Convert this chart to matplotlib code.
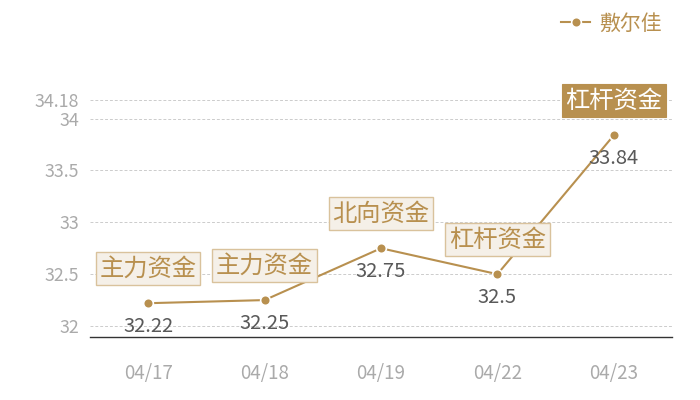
import matplotlib
matplotlib.use("Agg")
import matplotlib.pyplot as plt

plt.rcParams['font.family'] = ['Noto Sans CJK SC', 'DejaVu Sans']

dates = ["04/17", "04/18", "04/19", "04/22", "04/23"]
values = [32.22, 32.25, 32.75, 32.5, 33.84]
tags = ["主力资金", "主力资金", "北向资金", "杠杆资金", "杠杆资金"]
highlight = [False, False, False, False, True]
series_name = "敷尔佳"
yticks = [32, 32.5, 33, 33.5, 34, 34.18]
ytick_labels = ["32", "32.5", "33", "33.5", "34", "34.18"]

gold = "#b8904f"
fig = plt.figure(figsize=(7, 4), dpi=100)
ax = fig.add_axes([90/700, 63/400, 582/700, 237/400])
x = list(range(len(dates)))
ax.plot(x, values, color=gold, lw=1.5, marker='o', ms=7,
        markeredgecolor='white', markeredgewidth=1.2, zorder=3, label=series_name)
ax.set_xlim(-0.5, len(dates) - 0.5)
ax.set_ylim(31.894, 34.18)
ax.set_yticks(yticks)
ax.set_yticklabels(ytick_labels)
ax.set_xticks(x)
ax.set_xticklabels(dates)
ax.tick_params(axis='y', length=0, labelsize=12.8, colors='#aaaaaa', pad=8)
ax.tick_params(axis='x', length=0, labelsize=13.5, colors='#aaaaaa', pad=19)
ax.grid(axis='y', color='#cccccc', ls=(0, (3, 2)), lw=0.7)
ax.set_axisbelow(True)
for s in ['top', 'right', 'left']:
    ax.spines[s].set_visible(False)
ax.spines['bottom'].set_color('#333333')
ax.spines['bottom'].set_linewidth(1)

for xi, v, t, h in zip(x, values, tags, highlight):
    ax.annotate(f"{v:g}", (xi, v), xytext=(0, -16.5), textcoords='offset points',
                ha='center', va='center', fontsize=14.5, color='#595959', zorder=4)
    if h:
        bbox = dict(boxstyle='square,pad=0.15', fc=gold, ec=gold, lw=0.8)
        tc = 'white'
    else:
        bbox = dict(boxstyle='square,pad=0.15', fc='#f5f0e8', ec='#d9c29c', lw=1.0)
        tc = gold
    ax.annotate(t, (xi, v), xytext=(0, 25), textcoords='offset points',
                ha='center', va='center', fontsize=17.5, color=tc, bbox=bbox, zorder=5)

leg = fig.legend(loc='upper right', bbox_to_anchor=(676/700, 1.005), frameon=False,
                 fontsize=15, handlelength=1.4, handletextpad=0.4, borderaxespad=0.3)
for txt in leg.get_texts():
    txt.set_color(gold)

fig.savefig("out.png", dpi=100)
